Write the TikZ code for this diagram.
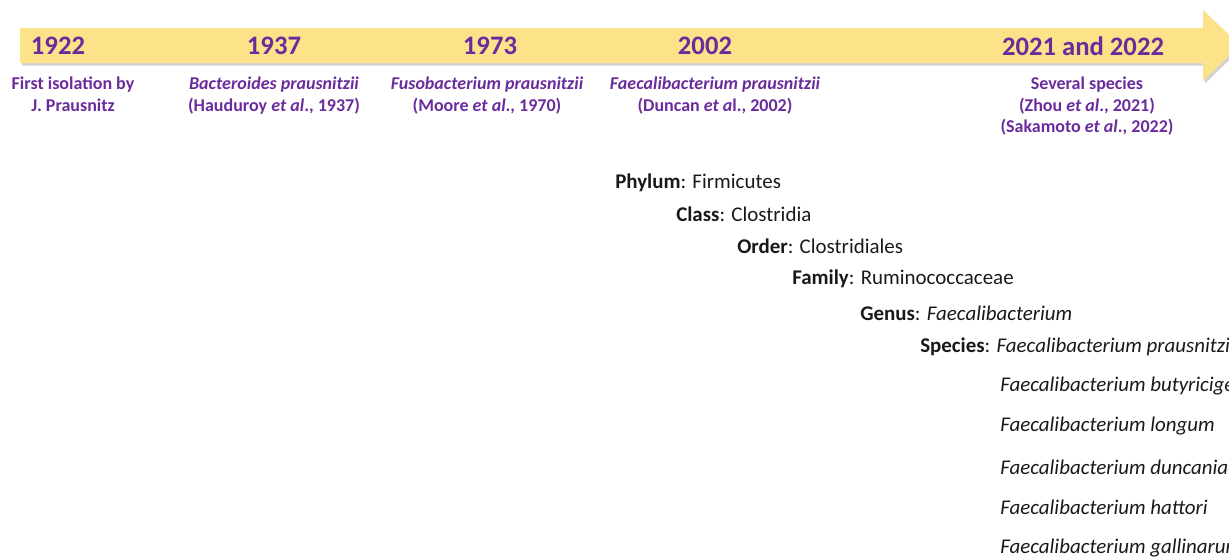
\documentclass[tikz,border=0pt]{standalone}
\usepackage{fontspec}
\setmainfont{Carlito}
\usetikzlibrary{shadows}
\definecolor{bandyellow}{HTML}{FCE38A}
\definecolor{faecpurple}{HTML}{6A2C9C}
\tikzset{
  year/.style = {text=faecpurple, font=\fontsize{20}{22}\selectfont\bfseries, inner sep=0pt},
  event/.style = {text=faecpurple, font=\fontsize{13.5}{15.9}\selectfont\bfseries,
                  align=center, anchor=north, inner sep=0pt},
  taxon/.style = {text=black!90, font=\fontsize{15.7}{18}\selectfont, anchor=west, inner sep=0pt}
}

\begin{document}
\begin{tikzpicture}[x=0.75pt,y=-0.75pt]
  \clip (0,0) rectangle (1229,558);
  \useasboundingbox (0,0) rectangle (1229,558);
  % timeline band
  \fill[bandyellow, drop shadow={shadow xshift=1.5pt, shadow yshift=-2pt, opacity=0.35}]
    (20,28) -- (1203,28) -- (1203,10) -- (1240,45) -- (1203,81) -- (1203,63) -- (20,63) -- cycle;
  % years
  \node[year] (y1922) at (58,46) {1922};
  \node[year] (y1937) at (274,46) {1937};
  \node[year] (y1973) at (490,46) {1973};
  \node[year] (y2002) at (705,46) {2002};
  \node[year] (y2021) at (1083,46) {2021 and 2022};
  % events
  \node[event] (e1922) at (73,77) {First isolation by\\J. Prausnitz};
  \node[event] (e1937) at (274,77) {\textit{Bacteroides prausnitzii}\\(Hauduroy \textit{et al}., 1937)};
  \node[event] (e1973) at (487,77) {\textit{Fusobacterium prausnitzii}\\(Moore \textit{et al}., 1970)};
  \node[event] (e2002) at (715,77) {\textit{Faecalibacterium prausnitzii}\\(Duncan \textit{et a}l., 2002)};
  \node[event] (e2021) at (1087,77) {Several species\\(Zhou \textit{et al}., 2021)\\(Sakamoto \textit{et al}., 2022)};
  % taxonomy
  \node[taxon] (phylum) at (615,183) {\textbf{Phylum}: Firmicutes};
  \node[taxon] (class) at (676,214) {\textbf{Class}: Clostridia};
  \node[taxon] (order) at (737,246) {\textbf{Order}: Clostridiales};
  \node[taxon] (family) at (792,279) {\textbf{Family}: Ruminococcaceae};
  \node[taxon] (genus) at (860,313) {\textbf{Genus}: \textit{Faecalibacterium}};
  \node[taxon] (species) at (920,347) {\textbf{Species}: \textit{Faecalibacterium prausnitzii}};
  \node[taxon] (sp1) at (1000,386) {\textit{Faecalibacterium butyricigenerans}};
  \node[taxon] (sp2) at (1000,426) {\textit{Faecalibacterium longum}};
  \node[taxon] (sp3) at (1000,467) {\textit{Faecalibacterium duncaniae}};
  \node[taxon] (sp4) at (1000,507) {\textit{Faecalibacterium hattori}};
  \node[taxon] (sp5) at (1000,548) {\textit{Faecalibacterium gallinarum}};
\end{tikzpicture}
\end{document}
